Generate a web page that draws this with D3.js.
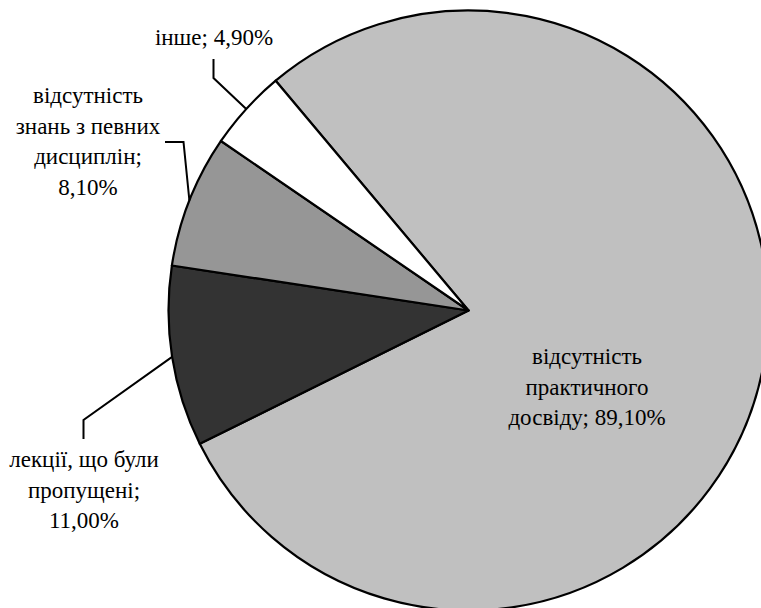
<!DOCTYPE html>
<html>
<head>
<meta charset="utf-8">
<script src="https://cdn.jsdelivr.net/npm/d3@7"></script>
<style>
  html, body { margin: 0; padding: 0; background: #fff; overflow: hidden; }
  svg { display: block; }
</style>
</head>
<body>
<svg id="chart" width="761" height="608"></svg>
<script>
// Reasons, their shares (%) and slice fills
const categories = [
  "відсутність практичного досвіду",
  "лекції, що були пропущені",
  "відсутність знань з певних дисциплін",
  "інше"
];
const values = [89.1, 11.0, 8.1, 4.9];
const valueLabels = ["89,10%", "11,00%", "8,10%", "4,90%"];
const fills = ["#c0c0c0", "#333333", "#969696", "#ffffff"];
// Label text split into lines
const labelLines = [
  ["відсутність", "практичного", "досвіду; 89,10%"],
  ["лекції, що були", "пропущені;", "11,00%"],
  ["відсутність", "знань з певних", "дисциплін;", "8,10%"],
  ["інше; 4,90%"]
];

const FONT = "'Liberation Serif', 'Times New Roman', Tinos, 'DejaVu Serif', serif";

const svg = d3.select("#chart");
const cx = 468.5, cy = 310.5, R = 300;
const startDeg = -40;

const pie = d3.pie()
  .sort(null)
  .value(d => d)
  .startAngle(startDeg * Math.PI / 180)
  .endAngle(startDeg * Math.PI / 180 + 2 * Math.PI);
const arcs = pie(values);

const arc = d3.arc().innerRadius(0).outerRadius(R);
const rimArc = d3.arc().innerRadius(R).outerRadius(R);

const g = svg.append("g").attr("transform", `translate(${cx},${cy})`);

g.selectAll("path.slice")
  .data(arcs)
  .join("path")
  .attr("class", "slice")
  .attr("d", arc)
  .attr("fill", (d, i) => fills[i])
  .attr("stroke", "#000")
  .attr("stroke-width", 2.2)
  .attr("stroke-linejoin", "round");

// Label blocks: centre x, first baseline y, and leader elbow
const lineStep = 30.5;
const labelLayout = [
  { x: 587, y: 364, leader: null },
  { x: 84, y: 467, leader: { from: [83.5, 439], elbow: [83.5, 420] } },
  { x: 88, y: 103, leader: { from: [165, 142], elbow: [183.5, 142] } },
  { x: 214, y: 45, leader: { from: [213.5, 59], elbow: [213.5, 78] } }
];

arcs.forEach((a, i) => {
  const L = labelLayout[i];
  if (L.leader) {
    const p = rimArc.centroid(a);
    const pts = [L.leader.from, L.leader.elbow, [p[0] + cx, p[1] + cy]];
    svg.append("path")
      .attr("d", d3.line()(pts))
      .attr("fill", "none")
      .attr("stroke", "#000")
      .attr("stroke-width", 2);
  }
  const t = svg.append("text")
    .attr("text-anchor", "middle")
    .attr("font-family", FONT)
    .attr("font-size", 23)
    .attr("fill", "#000");
  labelLines[i].forEach((s, k) => {
    t.append("tspan")
      .attr("x", L.x)
      .attr("y", L.y + k * lineStep)
      .text(s);
  });
});
</script>
</body>
</html>
